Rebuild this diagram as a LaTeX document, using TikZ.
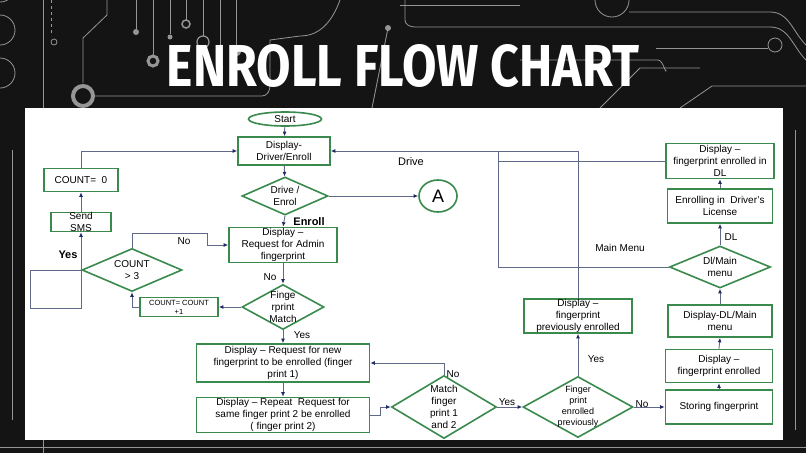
\documentclass[tikz,border=0pt]{standalone}
\usepackage{fontspec}
\setmainfont{Liberation Sans}
\newfontfamily\titlefont{Fira Sans}
\usetikzlibrary{shapes.geometric,arrows.meta}
\definecolor{boxgreen}{RGB}{58,138,78}
\definecolor{wire}{RGB}{96,106,136}
\definecolor{tipc}{RGB}{30,42,96}
\definecolor{board}{RGB}{20,20,20}
\definecolor{trace}{RGB}{150,150,150}
\begin{document}
\begin{tikzpicture}[x=1pt,y=-1pt,font=\fontsize{10}{12}\selectfont]
\useasboundingbox (0,0) rectangle (806,453);
% Background board
\fill[board] (0,0) rectangle (806,453);
\begin{scope}[draw=trace,line width=0.8pt]
\draw (0,2) arc (90:-90:15); \draw (0,45) arc (90:-90:15); \draw (0,88) arc (90:-90:15);
\draw (43,0) -- (43,453);
\draw[dashed] (51,0) -- (51,36); \draw (54,42) circle (3);
\draw (107,0) -- (107,15) -- (83,38) -- (83,83);
\draw[line width=4pt] (83,96) circle (10);
\draw (93,96) -- (262,96) to[out=0,in=-90] (270,86) -- (270,40) -- (300,36) to[out=0,in=-110] (340,0);
\draw (136,0) -- (136,29); \fill[trace] (136,32) circle (3);
\draw (153,0) -- (153,55); \draw[line width=3pt] (153,61) circle (5);
\draw (170,0) -- (170,34); \fill[trace] (170,37) circle (2.5);
\draw (186,0) -- (186,20); \draw[line width=1.5pt] (186,24) circle (4);
\draw (203,0) -- (203,36); \draw[line width=1.2pt] (203,42) circle (6);
\draw (220,0) -- (220,64); \fill[trace] (220,67) circle (3);
\draw (236,0) -- (236,48); \fill[trace] (237,52) circle (4);
\draw (300,108) arc (180:90:62); \draw (318,108) arc (180:90:45) -- (388,28); \fill[trace] (388,28) circle (3);
\draw (405,0) -- (405,20) to[out=-90,in=180] (415,27) -- (770,27) to[out=0,in=135] (806,60);
\draw (400,5) -- (520,5);
\draw (595,0) arc (180:0:17) ; \draw (629,12) -- (770,12) to[out=0,in=135] (806,45);
\draw (656,48) -- (768,48); \draw (775,45) circle (7);
\draw (520,60) -- (658,60) to[out=0,in=-90] (666,70);
\draw (680,108) -- (712,86) -- (806,86);
\draw (600,108) -- (640,68) -- (700,68);
\draw (0,447) -- (806,447);
\draw (795,130) -- (795,430); \draw (12,150) -- (12,420);
\end{scope}
% Panel
\fill[white] (25,108) rectangle (783,440);
\node at (403,66) [inner sep=0pt, text=white] (title) {\resizebox{472pt}{42pt}{\titlefont\bfseries ENROLL FLOW CHART}};

\tikzstyle{blk} = [draw=boxgreen, shape=rectangle, line width=1.6pt, align=center, inner sep=0pt]
\tikzstyle{dec} = [draw=boxgreen, shape=diamond, line width=1.6pt, inner sep=0pt]
\tikzstyle{wr} = [draw=wire, line width=0.9pt]
\tikzstyle{ar} = [wr, -{Latex[length=4.5pt,width=4pt,color=tipc]}]
\tikzstyle{tag} = [inner sep=0pt]

% Left column
\node at (285,119) [blk, shape=ellipse, minimum width=73pt, minimum height=14pt] (start){Start};
\node at (284,151) [blk, minimum width=92pt, minimum height=28pt] (disp){Display-\\Driver/Enroll};
\node at (285,196) [dec, minimum width=86pt, minimum height=38pt, label={[align=center]center:Drive /\\Enrol}] (choose){};
\node at (438,196) [blk, shape=ellipse, minimum width=38pt, minimum height=32pt, font=\fontsize{18}{18}\selectfont] (A){A};
\node at (283,245) [blk, minimum width=108pt, minimum height=35pt] (admin){Display --\\Request for Admin\\fingerprint};
\node at (81,180) [blk, minimum width=74pt, minimum height=23pt] (cz){COUNT=\ \ 0};
\node at (81,222) [blk, minimum width=60pt, minimum height=19pt, label={[align=center]center:Send\\SMS}] (sms){};
\node at (132,270) [dec, minimum width=100pt, minimum height=43pt, label={[align=center]center:COUNT\\> 3}] (cnt){};
\node at (179,307) [blk, minimum width=78pt, minimum height=19pt, font=\fontsize{7.5}{9}\selectfont] (cplus){COUNT= COUNT\\+1};
\node at (283,307) [dec, minimum width=82pt, minimum height=45pt, label={[align=center]center:Finge\\rprint\\Match}] (match){};
\node at (283,363) [blk, minimum width=173pt, minimum height=38pt] (new1){Display -- Request for new\\fingerprint to be enrolled (finger\\print 1)};
\node at (283,415) [blk, minimum width=173pt, minimum height=35pt] (rep2){Display -- Repeat\ \ Request for\\same finger print 2 be enrolled\\( finger print 2)};

% Middle
\node at (444,407) [dec, minimum width=105pt, minimum height=63pt, label={[align=center]center:Match\\finger\\print 1\\and 2}] (m12){};
\node at (578,407) [dec, minimum width=110pt, minimum height=61pt, label={[align=center, font=\fontsize{9}{11}\selectfont]center:Finger\\print\\enrolled\\previously}] (prev){};
\node at (578,316) [blk, minimum width=108pt, minimum height=34pt] (prevd){Display --\\fingerprint\\previously enrolled};

% Right column
\node at (719,407) [blk, minimum width=107pt, minimum height=34pt] (store){Storing fingerprint};
\node at (719,366) [blk, minimum width=107pt, minimum height=33pt] (fpe){Display --\\fingerprint enrolled};
\node at (720,321) [blk, minimum width=104pt, minimum height=32pt] (dlm){Display-DL/Main\\menu};
\node at (720,267) [dec, minimum width=101pt, minimum height=42pt, label={[align=center]center:Dl/Main\\menu}] (dlmenu){};
\node at (720,206) [blk, minimum width=105pt, minimum height=34pt] (lic){Enrolling in\ \ Driver's\\License};
\node at (720,161) [blk, minimum width=108pt, minimum height=35pt] (indl){Display --\\fingerprint enrolled in\\DL};

% Bends
\coordinate (n1) at (207,233);
\coordinate (y1) at (30,308);
\coordinate (j1) at (380,407);
\coordinate (t1) at (498,151);

% Connectors
\draw[ar] (start) -- (disp);
\draw[ar] (disp) -- (choose);
\draw[ar] (choose.east) -- (A.west);
\draw[ar] (choose.south) -- (admin.north);
\draw[ar] (admin.south) -- (match.north);
\draw[ar] (match.west) -- (cplus.east);
\draw[ar] (cplus.west) -| (cnt.south);
\draw[ar] (cnt.north) |- (n1) |- (admin.west);
\draw[ar] (cnt.west) -| (y1) -| (sms.south);
\draw[ar] (sms.north) -- (cz.south);
\draw[ar] (cz.north) |- (disp.west);
\draw[ar] (match.south) -- (new1.north);
\draw[ar] (new1.south) -- (rep2.north);
\draw[ar] (rep2.east) -| (j1) -- (m12.west);
\draw[ar] (m12.north) |- (new1.east);
\draw[ar] (m12.east) -- (prev.west);
\draw[ar] (prev.north) -- (prevd.south);
\draw[ar] (prev.east) -- (store.west);
\draw[ar] (store.north) -- (fpe.south);
\draw[ar] (fpe.north) -- (dlm.south);
\draw[ar] (dlm.north) -- (dlmenu.south);
\draw[ar] (dlmenu.north) -- (lic.south);
\draw[ar] (lic.north) -- (indl.south);
\draw[ar] (indl.west) -| (t1) -- (disp.east);
\draw[wr] (dlmenu.west) -| (t1);
\draw[wr] (prevd.north) |- (t1);

% Labels
\node at (411,162) [tag, font=\fontsize{11}{13}\selectfont] (ldrive){Drive};
\node at (309,222) [tag, font=\fontsize{11}{13}\selectfont\bfseries] (lenroll){Enroll};
\node at (184,241) [tag] (lno1){No};
\node at (68,255) [tag, font=\fontsize{11}{13}\selectfont\bfseries] (lyes1){Yes};
\node at (270,277) [tag] (lno2){No};
\node at (302,335) [tag] (lyes2){Yes};
\node at (453,374) [tag] (lno3){No};
\node at (507,402) [tag] (lyes3){Yes};
\node at (596,359) [tag] (lyes4){Yes};
\node at (642,404) [tag] (lno4){No};
\node at (731,237) [tag] (ldl){DL};
\node at (620,248) [tag] (lmain){Main Menu};
\end{tikzpicture}
\end{document}
